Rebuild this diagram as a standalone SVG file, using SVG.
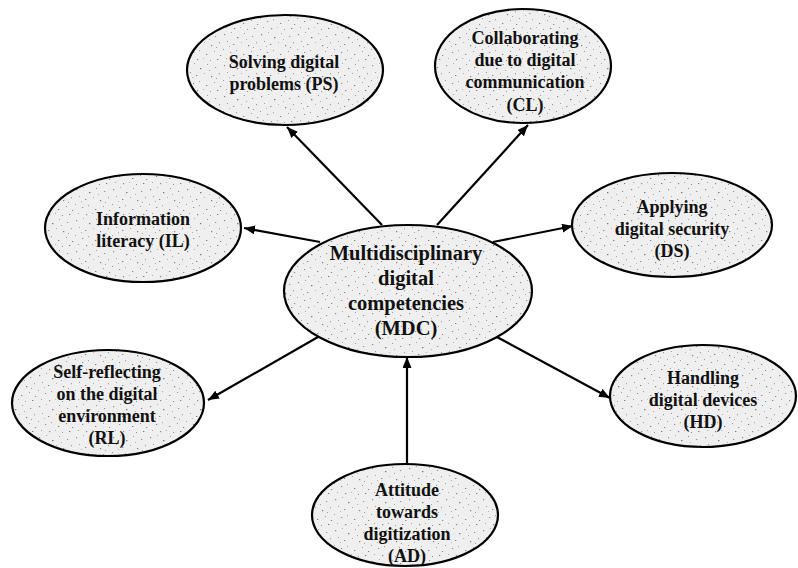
<svg xmlns="http://www.w3.org/2000/svg" width="798" height="568" viewBox="0 0 798 568">
  <style>
    .node ellipse { fill: url(#speckle); stroke: #000; stroke-width: 2.2; }
    .node text { font-family: "Liberation Serif", "Times New Roman", serif; font-weight: bold; font-size: 18px; fill: #111; text-anchor: middle; }
    #MDC text { font-size: 20.5px; }
    .edge { stroke: #000; stroke-width: 2.2; fill: none; marker-end: url(#arrow); }
  </style>
  <defs>
    <pattern id="speckle" patternUnits="userSpaceOnUse" width="37" height="31">
      <rect width="37" height="31" fill="#efefef"/>
      <rect x="2" y="3" width="1.2" height="1.2" fill="#8a8a8a"/>
      <rect x="9" y="1" width="1" height="1" fill="#a8a8a8"/>
      <rect x="15" y="6" width="1.4" height="1.2" fill="#7a7a7a"/>
      <rect x="22" y="2" width="1" height="1" fill="#9a9a9a"/>
      <rect x="30" y="5" width="1.2" height="1" fill="#8d8d8d"/>
      <rect x="34" y="11" width="1" height="1.3" fill="#a0a0a0"/>
      <rect x="5" y="10" width="1" height="1" fill="#999"/>
      <rect x="11" y="13" width="1.3" height="1" fill="#858585"/>
      <rect x="19" y="11" width="1" height="1" fill="#b0b0b0"/>
      <rect x="26" y="14" width="1.2" height="1.2" fill="#7f7f7f"/>
      <rect x="1" y="18" width="1" height="1" fill="#9c9c9c"/>
      <rect x="8" y="21" width="1.2" height="1" fill="#8c8c8c"/>
      <rect x="14" y="19" width="1" height="1.2" fill="#a5a5a5"/>
      <rect x="21" y="23" width="1.3" height="1" fill="#828282"/>
      <rect x="29" y="20" width="1" height="1" fill="#999"/>
      <rect x="35" y="24" width="1.2" height="1" fill="#8a8a8a"/>
      <rect x="4" y="27" width="1" height="1" fill="#a2a2a2"/>
      <rect x="12" y="28" width="1.2" height="1.2" fill="#888"/>
      <rect x="18" y="27" width="1" height="1" fill="#b4b4b4"/>
      <rect x="25" y="29" width="1" height="1" fill="#909090"/>
      <rect x="32" y="28" width="1.3" height="1" fill="#7c7c7c"/>
      <rect x="24" y="8" width="1" height="1" fill="#a9a9a9"/>
      <rect x="7" y="15" width="1" height="1" fill="#b0b0b0"/>
      <rect x="31" y="16" width="1" height="1" fill="#9e9e9e"/>
    </pattern>
    <marker id="arrow" markerUnits="userSpaceOnUse" markerWidth="12" markerHeight="10" refX="11" refY="4.5" orient="auto">
      <path d="M0,0 L11,4.5 L0,9 Z" fill="#000"/>
    </marker>
  </defs>

  <g id="connectors">
    <line class="edge" x1="382" y1="225" x2="287" y2="127"/>
    <line class="edge" x1="437" y1="225" x2="528" y2="125"/>
    <line class="edge" x1="320" y1="242" x2="244" y2="228"/>
    <line class="edge" x1="493" y1="242" x2="573" y2="226"/>
    <line class="edge" x1="318" y1="337" x2="208" y2="400"/>
    <line class="edge" x1="495" y1="336" x2="610" y2="398"/>
    <line class="edge" x1="407" y1="465" x2="407" y2="357"/>
  </g>

  <g id="PS" class="node">
    <ellipse cx="285" cy="70" rx="98" ry="55"/>
    <text x="284" y="68">Solving digital</text>
    <text x="284" y="90">problems (PS)</text>
  </g>

  <g id="CL" class="node">
    <ellipse cx="523" cy="66" rx="88" ry="57"/>
    <text x="525" y="44">Collaborating</text>
    <text x="525" y="66">due to digital</text>
    <text x="525" y="88">communication</text>
    <text x="525" y="111">(CL)</text>
  </g>

  <g id="IL" class="node">
    <ellipse cx="143" cy="228" rx="98" ry="54"/>
    <text x="143" y="225">Information</text>
    <text x="143" y="247">literacy (IL)</text>
  </g>

  <g id="DS" class="node">
    <ellipse cx="672" cy="225" rx="100" ry="52"/>
    <text x="672" y="213">Applying</text>
    <text x="672" y="235">digital security</text>
    <text x="672" y="257">(DS)</text>
  </g>

  <g id="MDC" class="node">
    <ellipse cx="408" cy="291" rx="124" ry="66"/>
    <text x="406" y="260">Multidisciplinary</text>
    <text x="406" y="285">digital</text>
    <text x="406" y="310">competencies</text>
    <text x="406" y="335">(MDC)</text>
  </g>

  <g id="RL" class="node">
    <ellipse cx="108" cy="403" rx="96" ry="53"/>
    <text x="107" y="378">Self-reflecting</text>
    <text x="107" y="400">on the digital</text>
    <text x="107" y="422">environment</text>
    <text x="107" y="444">(RL)</text>
  </g>

  <g id="HD" class="node">
    <ellipse cx="703" cy="396" rx="93" ry="51"/>
    <text x="703" y="384">Handling</text>
    <text x="703" y="406">digital devices</text>
    <text x="703" y="428">(HD)</text>
  </g>

  <g id="AD" class="node">
    <ellipse cx="405" cy="515" rx="93" ry="51"/>
    <text x="407" y="496">Attitude</text>
    <text x="407" y="518">towards</text>
    <text x="407" y="540">digitization</text>
    <text x="407" y="562">(AD)</text>
  </g>
</svg>
